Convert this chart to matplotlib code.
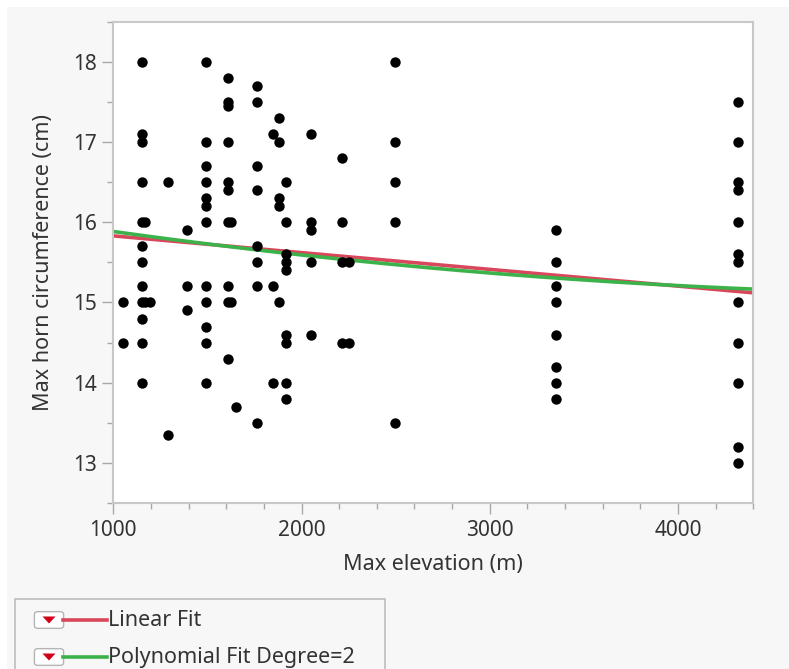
import numpy as np
import matplotlib
matplotlib.use("Agg")
import matplotlib.pyplot as plt
from matplotlib.patches import Rectangle, FancyBboxPatch, Polygon
from matplotlib.lines import Line2D
from matplotlib.ticker import MultipleLocator

plt.rcParams['font.family'] = ['Noto Sans', 'DejaVu Sans']

# max elevation (m) and max horn circumference (cm)
elevation = [
    1050, 1050,
    1150, 1150, 1150, 1150, 1150, 1150, 1150, 1150, 1150, 1150, 1150, 1150,
    1170, 1170, 1195,
    1290, 1290,
    1390, 1390, 1390,
    1490, 1490, 1490, 1490, 1490, 1490, 1490, 1490, 1490, 1490, 1490, 1490,
    1610, 1610, 1610, 1610, 1610, 1610, 1610, 1610, 1610, 1610,
    1625, 1625, 1650,
    1765, 1765, 1765, 1765, 1765, 1765, 1765, 1765,
    1850, 1850, 1850,
    1880, 1880, 1880, 1880, 1880,
    1915, 1915, 1915, 1915, 1915, 1915, 1915, 1915, 1915,
    2050, 2050, 2050, 2050, 2050,
    2215, 2215, 2215, 2215, 2250, 2250,
    2495, 2495, 2495, 2495, 2495,
    3350, 3350, 3350, 3350, 3350, 3350, 3350, 3350,
    4320, 4320, 4320, 4320, 4320, 4320, 4320, 4320, 4320, 4320, 4320, 4320,
]
horn = [
    15.0, 14.5,
    18.0, 17.1, 17.0, 16.5, 16.0, 15.7, 15.5, 15.2, 15.0, 14.8, 14.5, 14.0,
    16.0, 15.0, 15.0,
    16.5, 13.35,
    15.9, 15.2, 14.9,
    18.0, 17.0, 16.7, 16.5, 16.3, 16.2, 16.0, 15.2, 15.0, 14.7, 14.5, 14.0,
    17.8, 17.5, 17.45, 17.0, 16.5, 16.4, 16.0, 15.2, 15.0, 14.3,
    16.0, 15.0, 13.7,
    17.7, 17.5, 16.7, 16.4, 15.7, 15.5, 15.2, 13.5,
    17.1, 15.2, 14.0,
    17.3, 17.0, 16.3, 16.2, 15.0,
    16.5, 16.0, 15.6, 15.5, 15.4, 14.6, 14.5, 14.0, 13.8,
    17.1, 16.0, 15.9, 15.5, 14.6,
    16.8, 16.0, 15.5, 14.5, 15.5, 14.5,
    18.0, 17.0, 16.5, 16.0, 13.5,
    15.9, 15.5, 15.2, 15.0, 14.6, 14.2, 14.0, 13.8,
    17.5, 17.0, 16.5, 16.4, 16.0, 15.6, 15.5, 15.0, 14.5, 14.0, 13.2, 13.0,
]

# fitted curves as shown in the report (highest power first)
linear_coef = [-2.088e-4, 16.0388]
poly2_coef = [3.4e-8, -3.9478e-4, 16.2454]

fit_labels = ["Linear Fit", "Polynomial Fit Degree=2"]
fit_colors = ["#d8475b", "#3cb34a"]

x = np.array(elevation, dtype=float)
y = np.array(horn, dtype=float)

fig = plt.figure(figsize=(7.89, 6.69), dpi=100)
fig.patch.set_facecolor("white")
# grey report background
fig.add_artist(Rectangle((7 / 789, 0), 1, 1 - 7 / 669, transform=fig.transFigure,
                         facecolor="#f7f7f7", edgecolor="none", zorder=-10))

ax = fig.add_axes([113.3 / 789, 1 - 503 / 669, 640 / 789, 481.3 / 669])
ax.set_facecolor("white")
ax.scatter(x, y, s=56, color="black", zorder=3, linewidths=0)

xs = np.linspace(1000, 4400, 200)
ax.plot(xs, np.polyval(linear_coef, xs), color=fit_colors[0], lw=2.6, zorder=2)
ax.plot(xs, np.polyval(poly2_coef, xs), color=fit_colors[1], lw=2.6, zorder=2)

ax.set_xlim(1000, 4400)
ax.set_ylim(12.5, 18.5)
ax.xaxis.set_major_locator(MultipleLocator(1000))
ax.xaxis.set_minor_locator(MultipleLocator(200))
ax.yaxis.set_major_locator(MultipleLocator(1))
ax.yaxis.set_minor_locator(MultipleLocator(0.5))
ax.tick_params(which="major", length=8, width=1, color="#a8a8a8",
               labelsize=15, labelcolor="#333333", pad=4)
ax.tick_params(which="minor", length=4, width=1, color="#a8a8a8")
for sp in ax.spines.values():
    sp.set_color("#c8c8c8")
    sp.set_linewidth(1.5)

ax.set_xlabel("Max elevation (m)", fontsize=15.5, color="#333333")
ax.xaxis.set_label_coords(0.5, -0.105)
ax.set_ylabel("Max horn circumference (cm)", fontsize=15.5, color="#333333")
ax.yaxis.set_label_coords(-0.093, 0.5)

# legend box under the plot
fig.add_artist(Rectangle((15 / 789, -0.01), 370 / 789, (669 - 599) / 669 + 0.01,
                         transform=fig.transFigure, facecolor="none",
                         edgecolor="#bdbdbd", lw=1.2))
for i, (lab, col) in enumerate(zip(fit_labels, fit_colors)):
    cy = 1 - (620 + i * 37) / 669
    fig.add_artist(FancyBboxPatch((36 / 789, cy - 7 / 669), 26 / 789, 14 / 669,
                                  boxstyle="round,pad=0.002,rounding_size=0.004",
                                  transform=fig.transFigure, facecolor="white",
                                  edgecolor="#b5b5b5", lw=1))
    fig.add_artist(Polygon([(42.5 / 789, cy + 3.5 / 669), (55.5 / 789, cy + 3.5 / 669),
                            (49 / 789, cy - 3.5 / 669)], closed=True,
                           transform=fig.transFigure, facecolor="#d0021b",
                           edgecolor="none"))
    fig.add_artist(Line2D([63 / 789, 107 / 789], [cy, cy], transform=fig.transFigure,
                          color=col, lw=2.6))
    fig.text(108 / 789, cy, lab, fontsize=15.5, color="#333333",
             va="center", ha="left")

fig.savefig("out.png", dpi=100)
